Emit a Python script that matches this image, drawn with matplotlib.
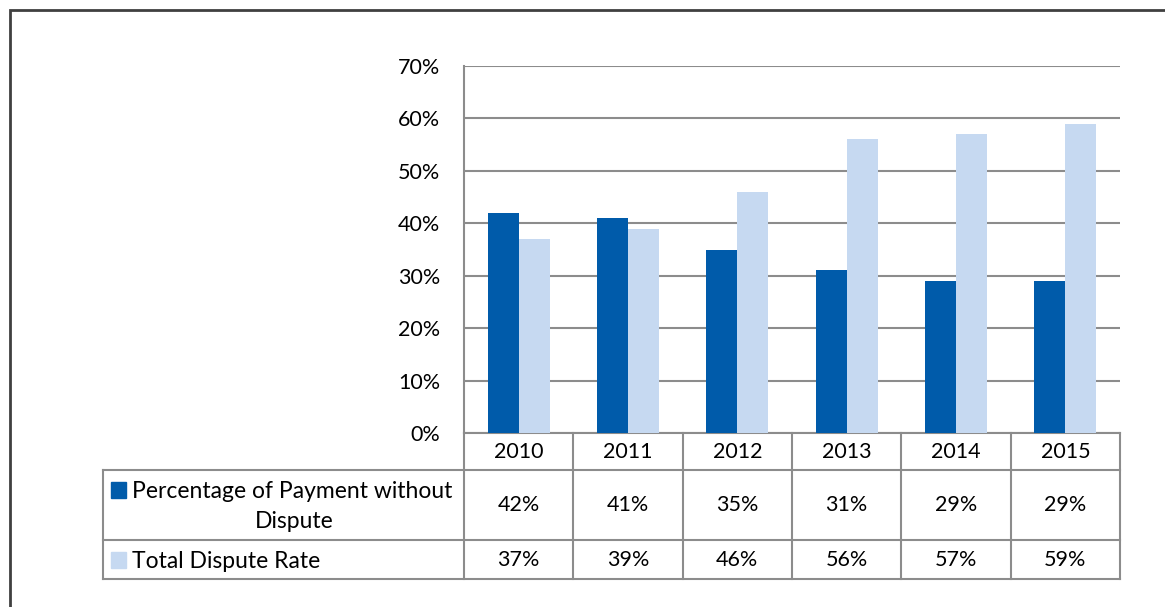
import matplotlib
matplotlib.use("Agg")
import matplotlib.pyplot as plt
from matplotlib.patches import Rectangle
from matplotlib.transforms import blended_transform_factory
from matplotlib.ticker import PercentFormatter

plt.rcParams['font.family'] = ['Lato', 'DejaVu Sans']

years = ["2010", "2011", "2012", "2013", "2014", "2015"]
pay_without_dispute = [42, 41, 35, 31, 29, 29]
total_dispute_rate = [37, 39, 46, 56, 57, 59]
dark = "#005BAA"
light = "#C6D9F1"
grid_c = "#8C8C8C"

W, H = 1165, 607
fig = plt.figure(figsize=(W / 100, H / 100), dpi=100)

def fx(px):
    return px / W

def fy(py):
    return 1 - py / H

ax = fig.add_axes([fx(464), fy(433), fx(1120) - fx(464), fy(66) - fy(433)])

x = list(range(len(years)))
bw = 0.285
ax.bar([i - bw / 2 for i in x], pay_without_dispute, width=bw, color=dark, zorder=3)
ax.bar([i + bw / 2 for i in x], total_dispute_rate, width=bw, color=light, zorder=3)

fs = 15.5
ax.set_xlim(-0.5, len(years) - 0.5)
ax.set_ylim(0, 70)
ax.set_yticks(range(0, 71, 10))
ax.yaxis.set_major_formatter(PercentFormatter(decimals=0))
ax.set_xticks([])
ax.tick_params(axis='y', length=0, pad=17, labelsize=fs)
ax.grid(axis='y', color=grid_c, linewidth=1.5, zorder=0)
for s in ['top', 'right', 'bottom']:
    ax.spines[s].set_visible(False)
ax.spines['left'].set_color(grid_c)
ax.spines['left'].set_linewidth(1.5)

# data table
tr = blended_transform_factory(ax.transData, fig.transFigure)
ftr = fig.transFigure
lw = 1.5
y_axis, y_r1, y_r2, y_end = 433, 470, 540, 579
n = len(years)
ax.plot([-0.5, n - 0.5], [fy(y_axis)] * 2, transform=tr, color=grid_c, lw=lw, clip_on=False)
for yy in (y_r1, y_r2, y_end):
    fig.add_artist(plt.Line2D([fx(103), fx(1120)], [fy(yy)] * 2, transform=ftr, color=grid_c, lw=lw))
for i in range(n + 1):
    ax.plot([i - 0.5] * 2, [fy(y_axis), fy(y_end)], transform=tr, color=grid_c, lw=lw, clip_on=False)
fig.add_artist(plt.Line2D([fx(103)] * 2, [fy(y_r1), fy(y_end)], transform=ftr, color=grid_c, lw=lw))

for i, yr in enumerate(years):
    ax.text(i, fy((y_axis + y_r1) / 2), yr, transform=tr, ha='center', va='center', fontsize=fs)
    ax.text(i, fy((y_r1 + y_r2) / 2), f"{pay_without_dispute[i]}%", transform=tr, ha='center', va='center', fontsize=fs)
    ax.text(i, fy((y_r2 + y_end) / 2), f"{total_dispute_rate[i]}%", transform=tr, ha='center', va='center', fontsize=fs)

lfs = 16.5
fig.add_artist(Rectangle((fx(111), fy(498)), fx(15), fy(0) - fy(16), transform=ftr, color=dark))
fig.text(fx(132), fy(492), "Percentage of Payment without", ha='left', va='center', fontsize=lfs)
fig.text(fx(294), fy(522), "Dispute", ha='center', va='center', fontsize=lfs)
fig.add_artist(Rectangle((fx(111), fy(568)), fx(15), fy(0) - fy(16), transform=ftr, color=light))
fig.text(fx(132), fy(561), "Total Dispute Rate", ha='left', va='center', fontsize=lfs)

# outer border
fig.add_artist(Rectangle((fx(10), fy(H + 20)), fx(W + 20), fy(10) - fy(H + 20), transform=ftr,
                         fill=False, edgecolor="#404040", lw=2))

fig.savefig("out.png", dpi=100)
